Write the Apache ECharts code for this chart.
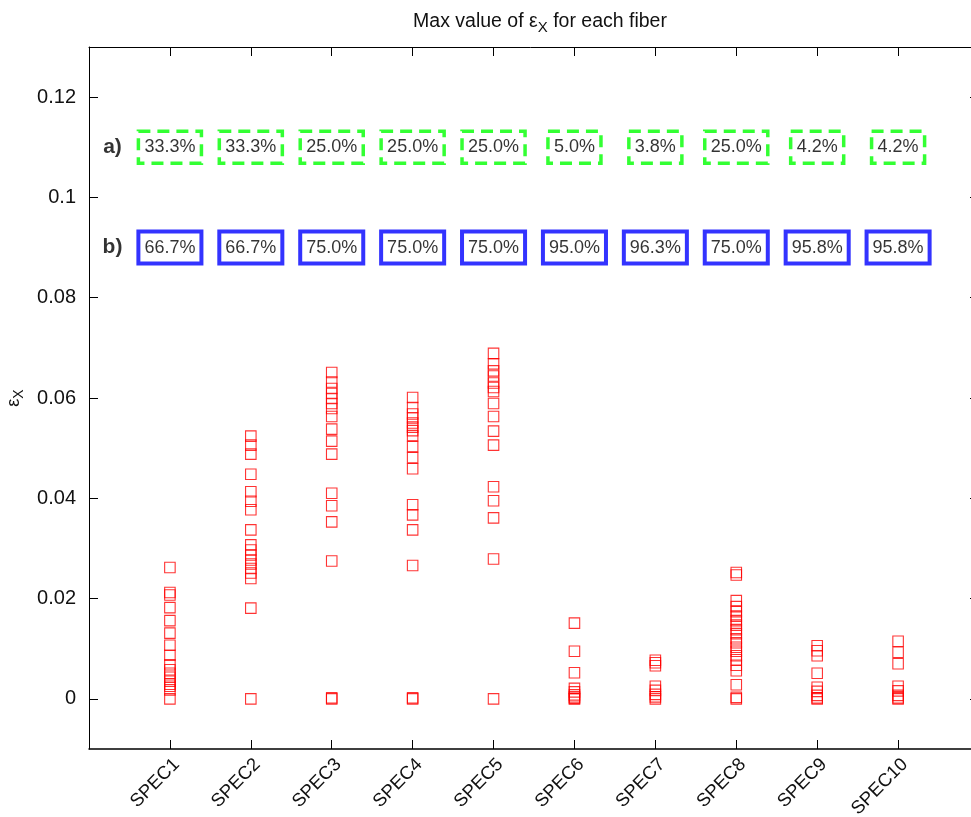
<!DOCTYPE html>
<html>
<head>
<meta charset="utf-8">
<title>Max value of εX for each fiber</title>
<script src="https://cdn.jsdelivr.net/npm/echarts@6/dist/echarts.min.js"></script>
<style>
  html, body { margin: 0; padding: 0; background: #ffffff; }
  #chart { width: 971px; height: 817px; }
</style>
</head>
<body>
<div id="chart"></div>
<script>
// Fibre names along the x axis
const categories = ['SPEC1', 'SPEC2', 'SPEC3', 'SPEC4', 'SPEC5', 'SPEC6', 'SPEC7', 'SPEC8', 'SPEC9', 'SPEC10'];

// Max strain εX recorded for each fibre
const spec1 = [0.0262, 0.0212, 0.0207, 0.0182, 0.0156, 0.0131, 0.0107, 0.0087, 0.0068, 0.0058, 0.0051, 0.0043, 0.0035, 0.0029, 0.0025, 0.0018, 0];
const spec2 = [0.0524, 0.0506, 0.0488, 0.0448, 0.0413, 0.0394, 0.0377, 0.0337, 0.0307, 0.0297, 0.0287, 0.0277, 0.0269, 0.0260, 0.0251, 0.0240, 0.0181, 0];
const spec3 = [0.0651, 0.0632, 0.0619, 0.0609, 0.0599, 0.0589, 0.0579, 0.0563, 0.0538, 0.0514, 0.0488, 0.0410, 0.0385, 0.0353, 0.0275, 0.0002, 0];
const spec4 = [0.0601, 0.0581, 0.0568, 0.0560, 0.0550, 0.0542, 0.0535, 0.0525, 0.0503, 0.0481, 0.0459, 0.0387, 0.0367, 0.0337, 0.0266, 0.0002, 0];
const spec5 = [0.0689, 0.0668, 0.0654, 0.0644, 0.0630, 0.0621, 0.0613, 0.0589, 0.0563, 0.0534, 0.0506, 0.0423, 0.0395, 0.0361, 0.0279, 0];
const spec6 = [0.0151, 0.0095, 0.0052, 0.0021, 0.0014, 0.0008, 0.0004, 0.0001, 0];
const spec7 = [0.0077, 0.0072, 0.0066, 0.0025, 0.0017, 0.0009, 0.0004, 0];
const spec8 = [0.0252, 0.0247, 0.0196, 0.0184, 0.0174, 0.0165, 0.0156, 0.0147, 0.0138, 0.0130, 0.0120, 0.0112, 0.0103, 0.0095, 0.0086, 0.0078, 0.0067, 0.0056, 0.0028, 0.0003, 0];
const spec9 = [0.0106, 0.0096, 0.0086, 0.0051, 0.0023, 0.0015, 0.0007, 0.0002, 0];
const spec10 = [0.0115, 0.0093, 0.0070, 0.0025, 0.0016, 0.0007, 0.0002, 0];

// Share of samples per fibre: a) and b) (percent)
const pctA = [33.3, 33.3, 25.0, 25.0, 25.0, 5.0, 3.8, 25.0, 4.2, 4.2];
const pctB = [66.7, 66.7, 75.0, 75.0, 75.0, 95.0, 96.3, 75.0, 95.8, 95.8];

// Tick labels
const yTicks = [0, 0.02, 0.04, 0.06, 0.08, 0.1, 0.12];
const rowLabels = ['a)', 'b)'];

const specs = [spec1, spec2, spec3, spec4, spec5, spec6, spec7, spec8, spec9, spec10];
const xTicks = categories.map((c, i) => i + 1);

// rows of the percentage boxes, in εX units
const ROW_A = 0.11;
const ROW_B = 0.09;
const ROW_LABEL_X = 0.29;

const points = [];
specs.forEach((vals, i) => vals.forEach(v => points.push([i + 1, v])));

const FONT = "'Liberation Sans', Arial, Helvetica, sans-serif";
const INK = '#111111';

function boxLabel(color, width, type) {
  return {
    show: true,
    position: 'inside',
    formatter: p => p.value[2].toFixed(1) + '%',
    fontFamily: FONT,
    fontSize: 18,
    lineHeight: 20,
    color: '#000',
    borderColor: color,
    borderWidth: width,
    borderType: type,
    padding: [7, 6, 5, 6]
  };
}

const chart = echarts.init(document.getElementById('chart'), null, { renderer: 'canvas' });

const sharedTick = { show: true, inside: true, length: 9, lineStyle: { color: '#000', width: 1 } };
const sharedLine = { show: true, lineStyle: { color: '#000', width: 1 } };

chart.setOption({
  animation: false,
  backgroundColor: '#ffffff',
  title: {
    text: '{t|Max value of }{e|ε}{s|X}{t| for each fiber}',
    left: 535,
    top: 3,
    textAlign: 'center',
    textStyle: {
      fontWeight: 'normal',
      rich: {
        t: { fontFamily: FONT, fontSize: 19.5, fontWeight: 'normal', color: INK },
        e: { fontFamily: FONT, fontSize: 19.5, fontWeight: 'normal', color: INK },
        s: { fontFamily: FONT, fontSize: 15, fontWeight: 'normal', color: INK, padding: [12, 0, 0, 0] }
      }
    }
  },
  grid: { left: 89, top: 47, right: -8, bottom: 68, containLabel: false, outerBoundsMode: 'none' },
  xAxis: [
    {
      type: 'value', min: 0, max: 11, position: 'bottom',
      axisLine: { show: true, onZero: false, lineStyle: { color: '#000', width: 1.5 } },
      axisTick: Object.assign({}, sharedTick, { customValues: xTicks }),
      axisLabel: {
        customValues: xTicks,
        formatter: v => categories[Math.round(v) - 1] || '',
        rotate: 45, margin: 6,
        verticalAlign: 'top',
        fontFamily: FONT, fontSize: 18.5, color: INK
      },
      splitLine: { show: false }
    },
    {
      type: 'value', min: 0, max: 11, position: 'top',
      axisLine: Object.assign({ onZero: false }, sharedLine),
      axisTick: Object.assign({}, sharedTick, { customValues: xTicks }),
      axisLabel: { show: false },
      splitLine: { show: false }
    }
  ],
  yAxis: [
    {
      type: 'value', min: -0.01, max: 0.13, position: 'left',
      axisLine: Object.assign({ onZero: false }, sharedLine),
      axisTick: Object.assign({}, sharedTick, { customValues: yTicks }),
      axisLabel: {
        customValues: yTicks, margin: 13,
        fontFamily: FONT, fontSize: 20, color: INK
      },
      splitLine: { show: false },
      name: '{e|ε}{s|X}',
      nameLocation: 'middle',
      nameRotate: 90,
      nameGap: 62,
      nameTextStyle: {
        rich: {
          e: { fontFamily: FONT, fontSize: 18, color: INK },
          s: { fontFamily: FONT, fontSize: 14, color: INK, padding: [11, 0, 0, 0] }
        }
      }
    },
    {
      type: 'value', min: -0.01, max: 0.13, position: 'right',
      axisLine: Object.assign({ onZero: false }, sharedLine),
      axisTick: Object.assign({}, sharedTick, { customValues: yTicks }),
      axisLabel: { show: false },
      splitLine: { show: false }
    }
  ],
  series: [
    {
      name: 'εX',
      type: 'scatter',
      symbol: 'rect',
      symbolSize: 10.5,
      data: points,
      itemStyle: { color: 'rgba(0,0,0,0)', borderColor: '#ff0000', borderWidth: 1.1 },
      emphasis: { disabled: true },
      z: 3
    },
    {
      name: 'a',
      type: 'scatter',
      symbolSize: 0,
      itemStyle: { color: 'rgba(0,0,0,0)' },
      data: categories.map((c, i) => [i + 1, ROW_A, pctA[i]]),
      label: boxLabel('#00ff00', 3.5, [12, 7]),
      emphasis: { disabled: true },
      z: 4
    },
    {
      name: 'b',
      type: 'scatter',
      symbolSize: 0,
      itemStyle: { color: 'rgba(0,0,0,0)' },
      data: categories.map((c, i) => [i + 1, ROW_B, pctB[i]]),
      label: boxLabel('#0000ff', 4, 'solid'),
      emphasis: { disabled: true },
      z: 4
    },
    {
      name: 'rows',
      type: 'scatter',
      symbolSize: 0,
      itemStyle: { color: 'rgba(0,0,0,0)' },
      data: [[ROW_LABEL_X, ROW_A, rowLabels[0]], [ROW_LABEL_X, ROW_B, rowLabels[1]]],
      label: {
        show: true, position: 'inside',
        formatter: p => p.value[2],
        fontFamily: FONT, fontSize: 21, fontWeight: 'bold', color: '#000'
      },
      emphasis: { disabled: true },
      z: 4
    }
  ]
});
</script>
</body>
</html>
